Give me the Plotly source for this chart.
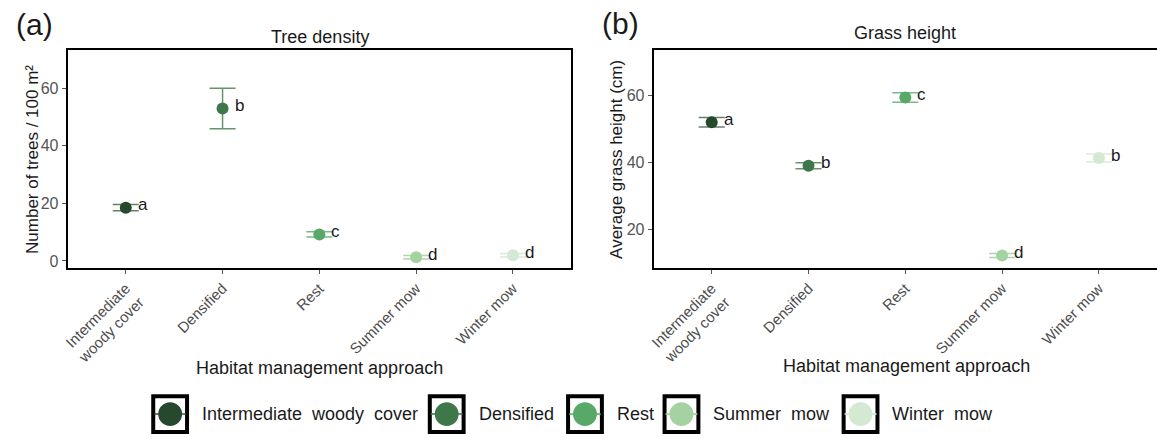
import plotly.graph_objects as go

# ---------------- data ----------------
categories = ["Intermediate woody cover", "Densified", "Rest", "Summer mow", "Winter mow"]
tick_labels = ["Intermediate<br>woody cover", "Densified", "Rest", "Summer mow", "Winter mow"]
legend_labels = ["Intermediate\u00a0 woody\u00a0 cover", "Densified", "Rest", "Summer\u00a0 mow", "Winter\u00a0 mow"]

tree_density = [18.5, 52.9, 9.2, 1.3, 2.0]
tree_density_se = [1.1, 7.0, 0.9, 0.6, 0.6]
tree_letters = ["a", "b", "c", "d", "d"]

grass_height = [51.9, 38.9, 59.3, 12.1, 41.2]
grass_height_se = [1.4, 0.9, 1.4, 0.6, 1.2]
grass_letters = ["a", "b", "c", "d", "b"]

colors = ["#26482c", "#3e784a", "#58a868", "#a4d3a1", "#d3e9d1"]
bar_colors = ["rgba(38,72,44,0.7)", "rgba(62,120,74,0.8)", "rgba(88,168,104,0.8)",
              "rgba(164,211,161,0.9)", "rgba(211,233,209,0.9)"]

W, H = 1157, 439
FONT = "Liberation Sans, Arial, sans-serif"

fig = go.Figure()

panels = [
    ("x", "y", tree_density, tree_density_se, tree_letters),
    ("x2", "y2", grass_height, grass_height_se, grass_letters),
]
for xa, ya, vals, ses, letters in panels:
    for i, cat in enumerate(categories):
        fig.add_trace(go.Scatter(
            x=[cat], y=[vals[i]], mode="markers", xaxis=xa, yaxis=ya,
            marker=dict(color=colors[i], size=12),
            error_y=dict(type="data", array=[ses[i]], color=bar_colors[i],
                         thickness=1.5, width=13),
            showlegend=False, name=cat,
        ))
        fig.add_annotation(x=cat, y=vals[i], xref=xa, yref=ya, text=letters[i],
                           showarrow=False, xanchor="left", yanchor="middle",
                           xshift=10, yshift=3,
                           font=dict(family=FONT, size=17, color="#1a1a1a"))

axis_common = dict(showline=True, linecolor="black", linewidth=2, showgrid=False,
                   zeroline=False, ticks="outside", ticklen=4, tickcolor="#555555",
                   tickwidth=1)

Y_DOMAIN = [0.387, 0.885]

fig.update_layout(
    width=W, height=H, margin=dict(l=0, r=0, t=0, b=0),
    paper_bgcolor="white", plot_bgcolor="white",
    font=dict(family=FONT),
    showlegend=False,
    xaxis=dict(domain=[62 / W, 568 / W], type="category", categoryorder="array",
               categoryarray=categories, range=[-0.6, 4.6], tickvals=categories,
               ticktext=tick_labels, tickangle=-45, mirror=True, anchor="y",
               tickfont=dict(size=15, color="#4d4d4d"), **axis_common),
    yaxis=dict(domain=Y_DOMAIN, range=[-2.4, 73.1], tickvals=[0, 20, 40, 60],
               mirror=True, anchor="x",
               tickfont=dict(size=16, color="#555555"),
               **axis_common),
    xaxis2=dict(domain=[651 / W, 1.0], type="category", categoryorder="array",
                categoryarray=categories, range=[-0.6, 4.6], tickvals=categories,
                ticktext=tick_labels, tickangle=-45, mirror=True, anchor="y2",
                tickfont=dict(size=15, color="#4d4d4d"), **axis_common),
    yaxis2=dict(domain=Y_DOMAIN, range=[8.4, 73.4], tickvals=[20, 40, 60],
                mirror=False, anchor="x2",
                tickfont=dict(size=16, color="#555555"),
                **axis_common),
)

def px(x):
    return x / W

def py(y):
    return 1 - y / H

y_mid = (Y_DOMAIN[0] + Y_DOMAIN[1]) / 2

# y-axis titles
for t, x in [("Number of trees / 100 m\u00b2", 26), ("Average grass height (cm)", 613)]:
    fig.add_annotation(x=px(x), y=y_mid, xref="paper", yref="paper", text=t,
                       textangle=-90, showarrow=False, xanchor="center",
                       yanchor="middle",
                       font=dict(family=FONT, size=17, color="#1a1a1a"))

# panel titles, tags, x-axis titles
texts = [
    ("Tree density", 316, 37, 18, "center"),
    ("Grass height", 904, 33, 18, "center"),
    ("(a)", 8, 25, 30, "left"),
    ("(b)", 597, 24, 30, "left"),
    ("Habitat management approach", 315, 370, 18, "center"),
    ("Habitat management approach", 905, 368, 18, "center"),
]
for t, x, y, s, anc in texts:
    fig.add_annotation(x=px(x), y=py(y), xref="paper", yref="paper", text=t,
                       showarrow=False, xanchor=anc, yanchor="middle",
                       font=dict(family=FONT, size=s, color="#1a1a1a"))

# legend (drawn manually to reproduce boxed keys)
legend_centers = [165, 443, 582, 679, 859]
ly = 416
for i, cx in enumerate(legend_centers):
    fig.add_shape(type="rect", xref="paper", yref="paper",
                  x0=px(cx - 17), x1=px(cx + 17), y0=py(ly + 18), y1=py(ly - 18),
                  line=dict(color="black", width=4), fillcolor="white")
    fig.add_shape(type="line", xref="paper", yref="paper",
                  x0=px(cx - 16), x1=px(cx + 16), y0=py(ly), y1=py(ly),
                  line=dict(color=bar_colors[i], width=2))
    fig.add_shape(type="circle", xref="paper", yref="paper",
                  x0=px(cx - 12), x1=px(cx + 12), y0=py(ly + 12), y1=py(ly - 12),
                  line=dict(width=0), fillcolor=colors[i])
    fig.add_annotation(x=px(cx + 30), y=py(ly), xref="paper", yref="paper",
                       text=legend_labels[i], showarrow=False, xanchor="left",
                       yanchor="middle",
                       font=dict(family=FONT, size=18, color="#1a1a1a"))

fig.write_html("out.html")
